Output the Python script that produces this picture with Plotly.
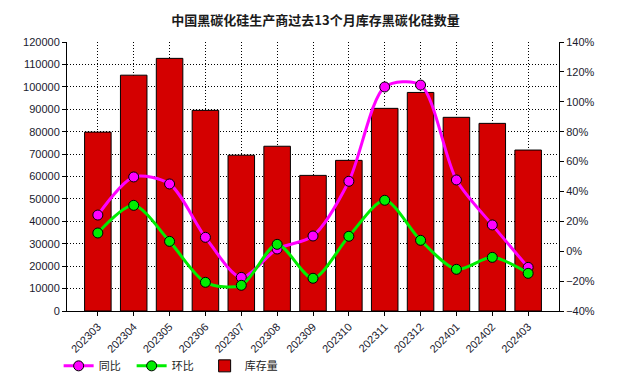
import plotly.graph_objects as go

categories = ["202303", "202304", "202305", "202306", "202307", "202308", "202309",
              "202310", "202311", "202312", "202401", "202402", "202403"]
inventory = [79800, 105200, 112700, 89500, 69500, 73500, 60500,
             67200, 90400, 97500, 86400, 83700, 71800]
yoy = [24.2, 49.7, 45.0, 9.3, -17.5, 1.5, 10.2, 46.8, 109.9, 111.2, 47.7, 17.6, -10.8]
mom = [12.2, 30.7, 6.6, -20.8, -22.8, 4.6, -18.1, 10.0, 34.1, 7.3, -12.1, -4.1, -14.8]

tick_font = dict(family="Liberation Sans, Arial", size=11, color="#1a1a2e")

fig = go.Figure()
fig.add_trace(go.Bar(
    x=categories, y=inventory, name="库存量", legendrank=3,
    marker=dict(color="#D40000", line=dict(color="black", width=1)),
))
fig.add_trace(go.Scatter(
    x=categories, y=yoy, name="同比", yaxis="y2", mode="lines+markers", legendrank=1,
    line=dict(color="#FF00FF", width=3, shape="spline", smoothing=0.8),
    marker=dict(size=10, color="#FF00FF", line=dict(color="black", width=1)),
))
fig.add_trace(go.Scatter(
    x=categories, y=mom, name="环比", yaxis="y2", mode="lines+markers", legendrank=2,
    line=dict(color="#00EE00", width=3, shape="spline", smoothing=0.8),
    marker=dict(size=10, color="#00EE00", line=dict(color="black", width=1)),
))

fig.update_layout(
    width=631, height=373,
    margin=dict(l=67, r=72, t=42, b=62, autoexpand=False),
    paper_bgcolor="white", plot_bgcolor="white",
    title=dict(text="<b>中国黑碳化硅生产商过去13个月库存黑碳化硅数量</b>",
               x=0.5, xanchor="center", y=0.946, yanchor="middle",
               font=dict(family="Noto Sans CJK SC", size=13, color="#1a1a1a")),
    bargap=0.26,
    showlegend=True,
    legend=dict(orientation="h", x=-0.017, xanchor="left", y=-0.15, yanchor="top",
                font=dict(family="Noto Sans CJK SC", size=11, color="#222"),
                itemwidth=30, entrywidth=28, entrywidthmode="pixels",
                bgcolor="rgba(0,0,0,0)"),
    xaxis=dict(
        type="category", tickangle=-45, tickfont=tick_font, automargin=False,
        showline=True, linecolor="black", linewidth=1,
        ticks="outside", ticklen=4, tickcolor="black",
        showgrid=True, gridcolor="black", gridwidth=1, griddash="1px,2px",
    ),
    yaxis=dict(
        range=[0, 120000], dtick=10000, tickfont=tick_font, automargin=False,
        showline=True, linecolor="black", linewidth=1,
        ticks="outside", ticklen=4, tickcolor="black",
        showgrid=True, gridcolor="black", gridwidth=1, griddash="1px,2px",
        zeroline=False, tickformat="d",
    ),
    yaxis2=dict(
        range=[-40, 140], dtick=20, overlaying="y", side="right", automargin=False,
        ticksuffix="%", tickfont=tick_font,
        showline=True, linecolor="black", linewidth=1,
        ticks="outside", ticklen=4, tickcolor="black",
        showgrid=False, zeroline=False,
    ),
)

fig.write_html("out.html", config={"displayModeBar": False},
               post_script="document.body.style.margin='0';")
